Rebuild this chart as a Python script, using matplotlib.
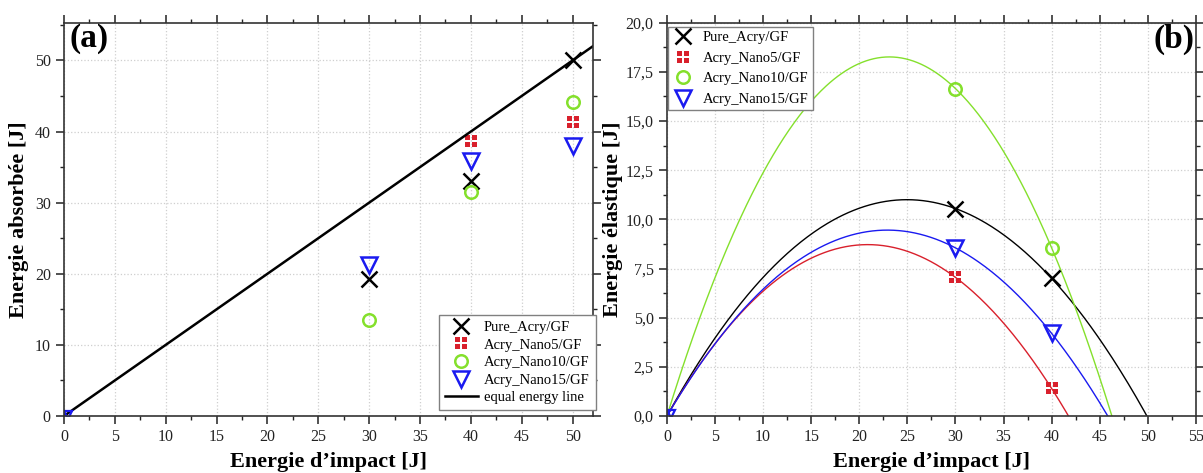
import matplotlib
matplotlib.use("Agg")
import matplotlib.pyplot as plt
from matplotlib.path import Path
from matplotlib.ticker import MultipleLocator, FuncFormatter
import numpy as np

plt.rcParams['font.family'] = ['Liberation Serif', 'DejaVu Serif']

# --- data ---
labels = ['Pure_Acry/GF', 'Acry_Nano5/GF', 'Acry_Nano10/GF', 'Acry_Nano15/GF']

# (a) absorbed energy
abs_x_pure = [30, 40, 50]
abs_y_pure = [19.3, 33.0, 50.0]
abs_x_nano5 = [40, 50]
abs_y_nano5 = [38.6, 41.4]
abs_x_nano10 = [30, 40, 50]
abs_y_nano10 = [13.5, 31.5, 44.2]
abs_x_nano15 = [30, 40, 50]
abs_y_nano15 = [21.2, 35.8, 38.0]
equal_line_x = [0, 52]
equal_line_y = [0, 52]

# (b) elastic energy
el_x = [30, 40]
el_y_pure = [10.55, 7.0]
el_y_nano5 = [7.05, 1.4]
el_y_nano10 = [16.65, 8.55]
el_y_nano15 = [8.55, 4.2]

# small blue mark at the origin of both panels
origin_x = [0.4]
origin_y = [0.15]

colors = ['#000000', '#d9202c', '#84e02c', '#1a1af0']


def boxplus_marker(gap=0.1):
    # red square split by a thin white cross
    squares = []
    s = 1 - gap
    for x0, y0 in [(-1, -1), (gap, -1), (-1, gap), (gap, gap)]:
        squares.append(Path([(x0, y0), (x0 + s, y0), (x0 + s, y0 + s), (x0, y0 + s), (x0, y0)],
                            [Path.MOVETO, Path.LINETO, Path.LINETO, Path.LINETO, Path.CLOSEPOLY]))
    return Path.make_compound_path(*squares)


sq = boxplus_marker()
styles = [
    dict(marker='x', ms=11, mew=1.8, color=colors[0], mfc='none'),
    dict(marker=sq, ms=9, mew=0, color=colors[1]),
    dict(marker='o', ms=9, mew=1.8, color=colors[2], mfc='none'),
    dict(marker='v', ms=12, mew=1.8, color=colors[3], mfc='none'),
]
origin_style = dict(marker='v', ms=6, mew=1.6, color=colors[3], mfc='none', ls='none')

fig = plt.figure(figsize=(12.03, 4.73), dpi=100)
ax1 = fig.add_axes([0.0532, 0.1205, 0.4397, 0.8315])
ax2 = fig.add_axes([0.5544, 0.1205, 0.4397, 0.8315])


def style_axes(ax):
    ax.grid(True, which='major', color='#cfcfcf', linestyle=':', linewidth=0.9)
    ax.set_axisbelow(True)
    ax.tick_params(which='both', direction='out', top=True, right=True,
                   labeltop=False, labelright=False, labelsize=11.5, colors='#222222')
    ax.tick_params(which='major', length=6, width=1.1)
    ax.tick_params(which='minor', length=3, width=1.0)
    for s in ax.spines.values():
        s.set_linewidth(1.2)
        s.set_color('#333333')


# ---------- (a) ----------
ax1.plot(abs_x_pure, abs_y_pure, ls='none', label=labels[0], **styles[0])
ax1.plot(abs_x_nano5, abs_y_nano5, ls='none', label=labels[1], **styles[1])
ax1.plot(abs_x_nano10, abs_y_nano10, ls='none', label=labels[2], **styles[2])
ax1.plot(abs_x_nano15, abs_y_nano15, ls='none', label=labels[3], **styles[3])
ax1.plot(equal_line_x, equal_line_y, color='black', lw=1.8, label='equal energy line')
ax1.plot(origin_x, origin_y, **origin_style)
ax1.set_xlim(0, 52)
ax1.set_ylim(0, 55.3)
ax1.xaxis.set_major_locator(MultipleLocator(5))
ax1.xaxis.set_minor_locator(MultipleLocator(2.5))
ax1.yaxis.set_major_locator(MultipleLocator(10))
ax1.yaxis.set_minor_locator(MultipleLocator(5))
style_axes(ax1)
ax1.set_xlabel("Energie d\u2019impact [J]", fontsize=16, fontweight='bold', labelpad=5)
ax1.set_ylabel("Energie absorbée [J]", fontsize=16, fontweight='bold', labelpad=4)
ax1.text(0.01, 0.998, '(a)', transform=ax1.transAxes, ha='left', va='top',
         fontsize=24, fontweight='bold')
leg1 = ax1.legend(loc='lower right', bbox_to_anchor=(1.005, 0.015), fontsize=10.5,
                  frameon=True, fancybox=False, edgecolor='#808080', framealpha=1,
                  handlelength=2.3, labelspacing=0.3, borderpad=0.4, handletextpad=0.4,
                  borderaxespad=0)
leg1.get_frame().set_linewidth(1.0)

# ---------- (b) ----------
x_fit = np.linspace(0, 55, 400)
series_b = [el_y_pure, el_y_nano5, el_y_nano10, el_y_nano15]
for i, ys in enumerate(series_b):
    # quadratic fit through the origin and the two measured points
    coef = np.polyfit([0] + el_x, [0] + ys, 2)
    ax2.plot(x_fit, np.polyval(coef, x_fit), color=colors[i], lw=1.0)
for i, ys in enumerate(series_b):
    ax2.plot(el_x, ys, ls='none', label=labels[i], **styles[i])
ax2.plot(origin_x, [0.1], **origin_style)
ax2.set_xlim(0, 55)
ax2.set_ylim(0, 20)
ax2.xaxis.set_major_locator(MultipleLocator(5))
ax2.xaxis.set_minor_locator(MultipleLocator(2.5))
ax2.yaxis.set_major_locator(MultipleLocator(2.5))
ax2.yaxis.set_minor_locator(MultipleLocator(1.25))
ax2.yaxis.set_major_formatter(FuncFormatter(lambda v, p: f"{v:.1f}".replace('.', ',')))
style_axes(ax2)
ax2.set_xlabel("Energie d\u2019impact [J]", fontsize=16, fontweight='bold', labelpad=5)
ax2.set_ylabel("Energie élastique [J]", fontsize=16, fontweight='bold', labelpad=2)
ax2.text(0.997, 0.998, '(b)', transform=ax2.transAxes, ha='right', va='top',
         fontsize=24, fontweight='bold')
leg2 = ax2.legend(loc='upper left', bbox_to_anchor=(0.002, 0.99), fontsize=10.5,
                  frameon=True, fancybox=False, edgecolor='#808080', framealpha=1,
                  handlelength=1.5, labelspacing=0.5, borderpad=0.3, handletextpad=0.6,
                  borderaxespad=0)
leg2.get_frame().set_linewidth(1.0)

fig.savefig('out.png', dpi=100)
